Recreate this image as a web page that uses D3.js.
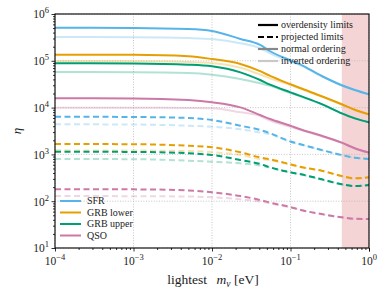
<!DOCTYPE html>
<html><head><meta charset="utf-8">
<script src="https://cdn.jsdelivr.net/npm/d3@7"></script>
<style>body{margin:0;background:#fff}svg{display:block}</style>
</head><body>
<svg id="c" width="388" height="298"></svg>
<script>
// ---- data ----
const masses = [1e-4, 1e-3, 5e-3, 0.01, 0.023, 0.041, 0.055, 0.1, 0.13, 0.25, 0.45, 0.66, 1];
const sources = ["SFR", "GRB lower", "GRB upper", "QSO"];
const colors = ["#56B4E9", "#E69F00", "#009E73", "#CC79A7"];
// overdensity limits, normal ordering
const odNormal = [
  [5.1e5, 5.05e5, 4.8e5, 4.35e5, 2.93e5, 2.18e5, 1.6e5, 1.02e5, 8.5e4, 4.73e4, 3.0e4, 2.38e4, 1.92e4],
  [1.35e5, 1.34e5, 1.25e5, 1.09e5, 8.55e4, 6.0e4, 4.75e4, 3.15e4, 2.65e4, 1.75e4, 1.18e4, 9.0e3, 7.2e3],
  [8.85e4, 8.75e4, 8.26e4, 7.63e4, 5.67e4, 3.89e4, 3.09e4, 2.12e4, 1.8e4, 1.19e4, 7.55e3, 5.9e3, 4.85e3],
  [1.58e4, 1.57e4, 1.45e4, 1.3e4, 1.01e4, 6.95e3, 5.71e3, 4.1e3, 3.49e3, 2.5e3, 1.78e3, 1.35e3, 1.09e3]
];
// overdensity limits, inverted ordering
const odInverted = [
  [3.23e5, 3.2e5, 3.07e5, 2.92e5, 2.37e5, 1.85e5, 1.45e5, 9.6e4, 8.2e4, 4.65e4, 2.97e4, 2.36e4, 1.91e4],
  [9.9e4, 9.8e4, 9.4e4, 8.97e4, 7.1e4, 5.1e4, 4.2e4, 3.05e4, 2.58e4, 1.72e4, 1.16e4, 8.9e3, 7.15e3],
  [5.77e4, 5.72e4, 5.49e4, 5.05e4, 4.08e4, 3.3e4, 2.94e4, 2.05e4, 1.76e4, 1.17e4, 7.5e3, 5.88e3, 4.83e3],
  [9.95e3, 9.9e3, 9.8e3, 9.66e3, 7.94e3, 6.6e3, 5.25e3, 3.9e3, 3.4e3, 2.45e3, 1.76e3, 1.34e3, 1.08e3]
];
// projected limits, normal ordering
const projNormal = [
  [6.4e3, 6.3e3, 6.0e3, 5.43e3, 4.1e3, 3.32e3, 2.82e3, 1.89e3, 1.67e3, 1.24e3, 970, 850, 800],
  [1.67e3, 1.65e3, 1.53e3, 1.42e3, 1.11e3, 860, 786, 614, 546, 449, 345, 308, 324],
  [1.14e3, 1.13e3, 1.06e3, 971, 759, 624, 530, 415, 381, 294, 230, 211, 222],
  [180, 179, 170, 155, 129, 106, 93, 75, 66, 53, 45.3, 42, 41.7]
];
// projected limits, inverted ordering
const projInverted = [
  [4.4e3, 4.35e3, 4.1e3, 3.91e3, 3.44e3, 2.94e3, 2.69e3, 1.85e3, 1.65e3, 1.23e3, 960, 845, 795],
  [1.22e3, 1.21e3, 1.18e3, 1.12e3, 970, 800, 750, 600, 540, 445, 342, 306, 322],
  [798, 790, 733, 698, 645, 580, 520, 410, 378, 292, 229, 210, 221],
  [129, 128, 126, 121, 110, 98.6, 90, 73, 66, 52.5, 45, 42, 41.5]
];
const xTickExps = [-4, -3, -2, -1, 0];
const yTickExps = [1, 2, 3, 4, 5, 6];
const excludedMass = [0.45, 1];
const styleLegend = ["overdensity limits", "projected limits", "normal ordering", "inverted ordering"];

// ---- layout ----
const W = 388, H = 298;
const m = {l: 55, r: 19, t: 14, b: 50};
const svg = d3.select("#c");
const x = d3.scaleLog().domain([1e-4, 1]).range([m.l, W - m.r]);
const y = d3.scaleLog().domain([10, 1e6]).range([H - m.b, m.t]);
const serif = "'Liberation Serif','DejaVu Serif',serif";

// excluded band
svg.append("rect").attr("x", x(excludedMass[0])).attr("y", m.t)
  .attr("width", x(excludedMass[1]) - x(excludedMass[0])).attr("height", y(10) - y(1e6))
  .attr("fill", "rgb(244,212,212)");

// grid
const g = svg.append("g");
xTickExps.forEach(e => g.append("line").attr("x1", x(10 ** e)).attr("x2", x(10 ** e))
  .attr("y1", m.t).attr("y2", H - m.b).attr("stroke", "#b8b8b8").attr("stroke-width", 0.8).attr("stroke-dasharray", "1,1.6"));
yTickExps.forEach(e => g.append("line").attr("y1", y(10 ** e)).attr("y2", y(10 ** e))
  .attr("x1", m.l).attr("x2", W - m.r).attr("stroke", "#b8b8b8").attr("stroke-width", 0.8).attr("stroke-dasharray", "1,1.6"));

// curves
const line = d3.line().x((d, i) => x(masses[i])).y(d => y(d)).curve(d3.curveMonotoneX);
svg.append("clipPath").attr("id", "pc").append("rect")
  .attr("x", m.l).attr("y", m.t).attr("width", W - m.l - m.r).attr("height", H - m.t - m.b);
const cg = svg.append("g").attr("clip-path", "url(#pc)");
function drawSet(data, opacity, dashed) {
  data.forEach((vals, i) => {
    cg.append("path").attr("d", line(vals)).attr("fill", "none")
      .attr("stroke", colors[i]).attr("stroke-opacity", opacity).attr("stroke-width", 2)
      .attr("stroke-dasharray", dashed ? "6,3.5" : null);
  });
}
drawSet(projInverted, 0.3, true);
drawSet(odInverted, 0.3, false);
drawSet(projNormal, 1, true);
drawSet(odNormal, 1, false);

// axes
const isMajor = d => Math.abs(Math.log10(d) - Math.round(Math.log10(d))) < 1e-6;
const xAxis = d3.axisBottom(x).tickValues(d3.range(-4, 1).flatMap(e => d3.range(1, 10).map(k => k * 10 ** e)).concat([1]))
  .tickFormat("").tickSizeOuter(0);
const ax = svg.append("g").attr("transform", `translate(0,${H - m.b})`).call(xAxis);
ax.selectAll(".tick line").attr("y2", d => isMajor(d) ? 3.5 : 2).attr("stroke-width", 0.8);
const yAxis = d3.axisLeft(y).tickValues(d3.range(1, 7).flatMap(e => d3.range(1, 10).map(k => k * 10 ** e)).filter(v => v <= 1e6))
  .tickFormat("").tickSizeOuter(0);
const ay = svg.append("g").attr("transform", `translate(${m.l},0)`).call(yAxis);
ay.selectAll(".tick line").attr("x2", d => isMajor(d) ? -3.5 : -2).attr("stroke-width", 0.8);
svg.selectAll(".domain").remove();
svg.append("rect").attr("x", m.l).attr("y", m.t).attr("width", W - m.l - m.r).attr("height", H - m.t - m.b)
  .attr("fill", "none").attr("stroke", "#000").attr("stroke-width", 1.1);

// tick labels
function powLabel(sel, e, px, py, anchor) {
  const t = sel.append("text").attr("x", px).attr("y", py).attr("text-anchor", anchor)
    .attr("font-family", serif).attr("font-size", 11.5).attr("fill", "#222");
  t.append("tspan").text("10");
  t.append("tspan").attr("dy", -5).attr("font-size", 8.5).text(e < 0 ? "\u2212" + (-e) : String(e));
}
xTickExps.forEach(e => powLabel(svg, e, x(10 ** e), 265, "middle"));
yTickExps.forEach(e => powLabel(svg, e, 49, y(10 ** e) + 4.3, "end"));

// axis titles
const xl = svg.append("text").attr("x", 213).attr("y", 284).attr("text-anchor", "middle")
  .attr("font-family", serif).attr("font-size", 13.5).attr("fill", "#222");
xl.append("tspan").text("lightest\u2002\u2009");
xl.append("tspan").attr("font-style", "italic").text("m");
xl.append("tspan").attr("font-style", "italic").attr("font-size", 9.5).attr("dy", 2.8).text("\u03bd");
xl.append("tspan").attr("dy", -2.8).text(" [eV]");
svg.append("text").attr("transform", `translate(21,131) rotate(-90)`).attr("text-anchor", "middle")
  .attr("font-family", serif).attr("font-style", "italic").attr("font-size", 13).attr("fill", "#222").text("\u03b7");

// legend: sources
sources.forEach((s, i) => {
  const yy = 201 + i * 11.5;
  svg.append("line").attr("x1", 60).attr("x2", 81).attr("y1", yy).attr("y2", yy)
    .attr("stroke", colors[i]).attr("stroke-width", 2);
  svg.append("text").attr("x", 87).attr("y", yy + 3.2).attr("font-family", serif).attr("font-size", 10)
    .attr("fill", "#222").text(s);
});
// legend: styles
const lstyles = [
  {c: "#000", w: 2.2, d: null}, {c: "#000", w: 2.2, d: "6,3"}, {c: "#888", w: 2.2, d: null}, {c: "#c8c8c8", w: 2.2, d: null}
];
styleLegend.forEach((s, i) => {
  const yy = 25 + i * 12;
  svg.append("line").attr("x1", 258).attr("x2", 278).attr("y1", yy).attr("y2", yy)
    .attr("stroke", lstyles[i].c).attr("stroke-width", lstyles[i].w).attr("stroke-dasharray", lstyles[i].d);
  svg.append("text").attr("x", 281).attr("y", yy + 3.2).attr("font-family", serif).attr("font-size", 10)
    .attr("fill", "#222").text(s);
});
</script>
</body></html>
